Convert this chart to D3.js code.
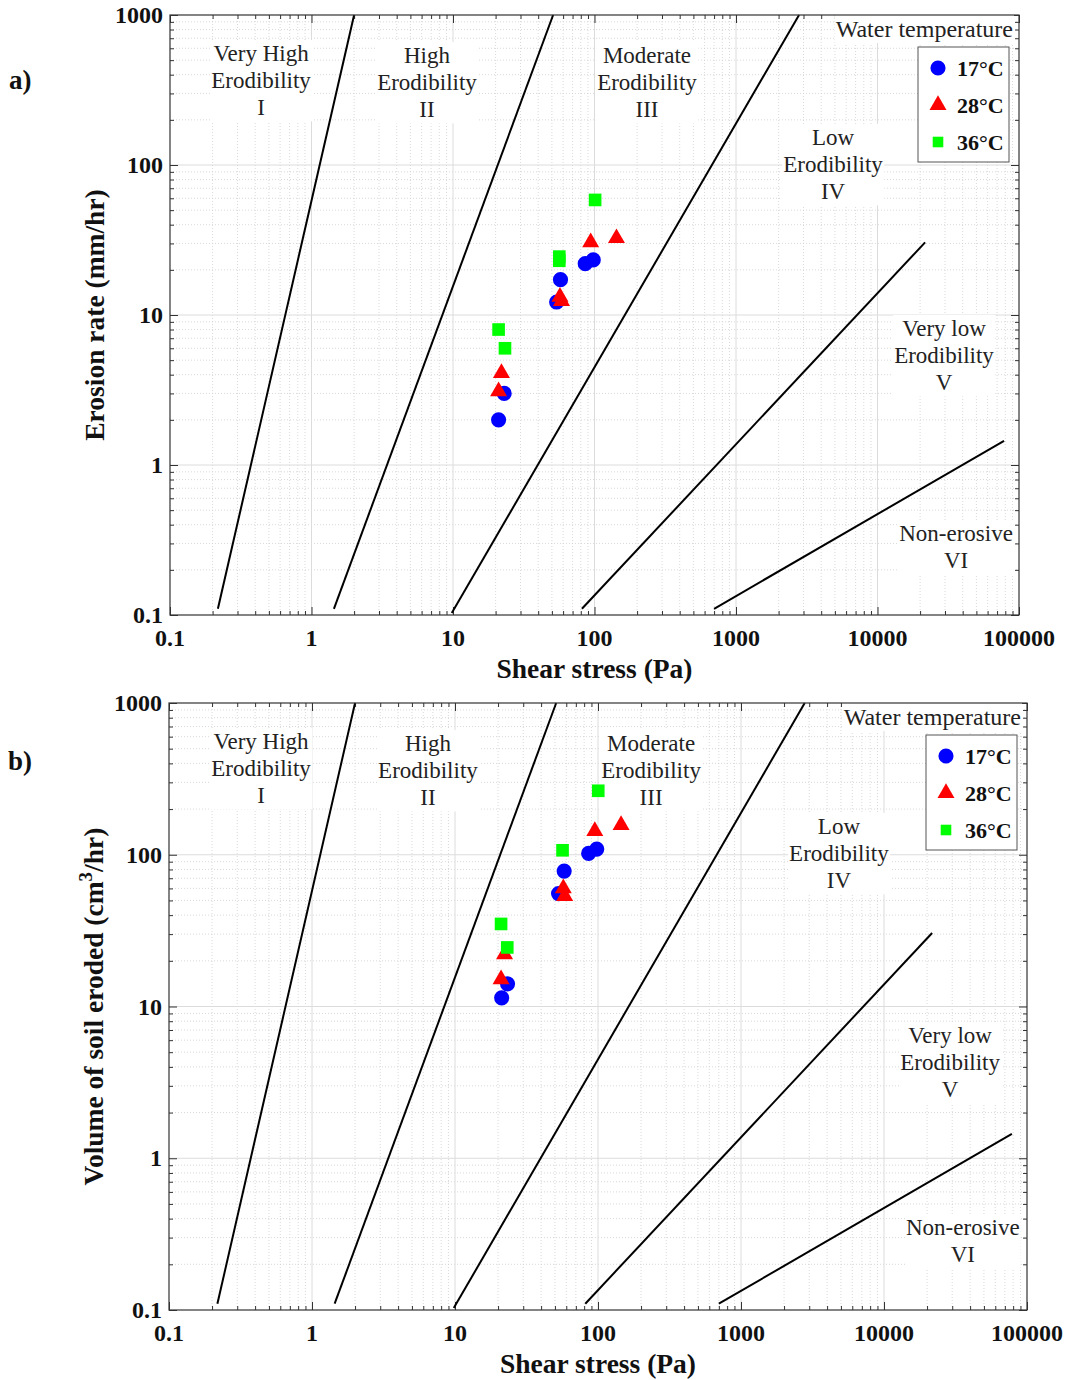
<!DOCTYPE html>
<html>
<head>
<meta charset="utf-8">
<script src="https://cdn.jsdelivr.net/npm/d3@7"></script>
<style>
  body { margin: 0; background: #fff; }
  svg { display: block; font-family: "Liberation Serif", "Times New Roman", serif; }
</style>
</head>
<body>
<svg id="chart" width="1070" height="1380"></svg>
<script>
// ---------------- DATA ----------------
const xTickValues = [0.1, 1, 10, 100, 1000, 10000, 100000];
const xTickLabels = ["0.1", "1", "10", "100", "1000", "10000", "100000"];
const yTickValues = [0.1, 1, 10, 100, 1000];
const yTickLabels = ["0.1", "1", "10", "100", "1000"];

// Erodibility category boundary lines: [x0, y0, x1, y1] in (Pa, rate)
const boundaryLines = [
  [0.218, 0.11, 2.0, 1000],
  [1.44, 0.11, 51, 1000],
  [9.8, 0.103, 2790, 1000],
  [81.5, 0.11, 21700, 30.5],
  [700, 0.11, 78400, 1.45]
];

const seriesNames = ["17°C", "28°C", "36°C"];
const seriesColors = ["#0000ff", "#ff0000", "#00ff00"];
const seriesSymbols = ["circle", "triangle", "square"];

// Panel a) erosion rate (mm/hr)
const rate17 = [[21, 2.0], [23, 3.0], [54, 12.2], [57.5, 17.2], [86, 22], [98, 23.3]];
const rate28 = [[21, 3.1], [22, 4.1], [57, 13.2], [58.5, 12.4], [94, 30.5], [143, 32.5]];
const rate36 = [[21, 8.0], [23.3, 6.0], [56.4, 23.0], [56.4, 24.5], [101, 58.5]];

// Panel b) volume of soil eroded (cm3/hr)
const vol17 = [[21.2, 11.4], [23.3, 14.1], [53, 55.5], [58, 78], [86, 102], [98, 109]];
const vol28 = [[21, 15.1], [22.2, 22.1], [57.2, 60], [58.5, 53.5], [95, 143], [145, 157]];
const vol36 = [[21, 35], [23.2, 24.5], [56.5, 107], [100.4, 264]];

// Zone labels: [x (Pa), y (value), lines]
const zoneLabelsA = [
  [0.44, 558, ["Very High", "Erodibility", "I"]],
  [6.55, 541, ["High", "Erodibility", "II"]],
  [235, 541, ["Moderate", "Erodibility", "III"]],
  [4850, 154, ["Low", "Erodibility", "IV"]],
  [29500, 8.2, ["Very low", "Erodibility", "V"]],
  [35900, 0.352, ["Non-erosive", "VI"]]
];
const zoneLabelsB = [
  [0.44, 562, ["Very High", "Erodibility", "I"]],
  [6.47, 545, ["High", "Erodibility", "II"]],
  [235, 545, ["Moderate", "Erodibility", "III"]],
  [4840, 155, ["Low", "Erodibility", "IV"]],
  [29000, 6.5, ["Very low", "Erodibility", "V"]],
  [35600, 0.352, ["Non-erosive", "VI"]]
];

const legendTitle = "Water temperature";
const xTitle = "Shear stress (Pa)";

// ---------------- DRAW ----------------
const svg = d3.select("#chart");

const panels = [
  { tag: "a)", L: 170, R: 1019, T: 15, B: 615, tagX: 9, tagY: 80,
    series: [rate17, rate28, rate36], zones: zoneLabelsA, yTitle: "rate" },
  { tag: "b)", L: 169, R: 1027, T: 703, B: 1310, tagX: 8, tagY: 761,
    series: [vol17, vol28, vol36], zones: zoneLabelsB, yTitle: "vol" }
];

function symbolFor(name, scale) {
  const k = scale || 1;
  if (name === "circle") return d3.symbol().type(d3.symbolCircle).size(180 * k)();
  if (name === "triangle") return d3.symbol().type(d3.symbolTriangle).size(125 * k)();
  return d3.symbol().type(d3.symbolSquare).size(160 * k)();
}

function whiteBehind(g, textSel, pad) {
  const bb = textSel.node().getBBox();
  g.insert("rect", () => textSel.node())
    .attr("x", bb.x - pad).attr("y", bb.y - 1).attr("width", bb.width + 2 * pad).attr("height", bb.height + 2)
    .attr("fill", "#fff");
}

panels.forEach(p => {
  const x = d3.scaleLog().domain([0.1, 100000]).range([p.L, p.R]);
  const y = d3.scaleLog().domain([0.1, 1000]).range([p.B, p.T]);
  const g = svg.append("g");

  // minor values
  const minorX = [], minorY = [];
  for (let e = -1; e < 5; e++) for (let m = 2; m <= 9; m++) minorX.push(m * Math.pow(10, e));
  for (let e = -1; e < 3; e++) for (let m = 2; m <= 9; m++) minorY.push(m * Math.pow(10, e));

  // minor grid (dotted)
  g.selectAll(".mgx").data(minorX).join("line")
    .attr("x1", d => x(d)).attr("x2", d => x(d)).attr("y1", p.T).attr("y2", p.B)
    .attr("stroke", "#cfcfcf").attr("stroke-width", 0.8).attr("stroke-dasharray", "1,2");
  g.selectAll(".mgy").data(minorY).join("line")
    .attr("y1", d => y(d)).attr("y2", d => y(d)).attr("x1", p.L).attr("x2", p.R)
    .attr("stroke", "#cfcfcf").attr("stroke-width", 0.8).attr("stroke-dasharray", "1,2");
  // major grid
  g.selectAll(".Mgx").data(xTickValues.slice(1, -1)).join("line")
    .attr("x1", d => x(d)).attr("x2", d => x(d)).attr("y1", p.T).attr("y2", p.B)
    .attr("stroke", "#dcdcdc").attr("stroke-width", 1);
  g.selectAll(".Mgy").data(yTickValues.slice(1, -1)).join("line")
    .attr("y1", d => y(d)).attr("y2", d => y(d)).attr("x1", p.L).attr("x2", p.R)
    .attr("stroke", "#dcdcdc").attr("stroke-width", 1);

  // axes with inward ticks (all four sides)
  const axCol = "#333";
  const mkAxis = (axisFn, scale, vals, size) =>
    axisFn(scale).tickValues(vals).tickSize(size).tickFormat("");
  const tr = (sel) => sel.call(s => s.select(".domain").remove())
    .call(s => s.selectAll("line").attr("stroke", axCol));

  g.append("g").attr("transform", `translate(0,${p.B})`).call(mkAxis(d3.axisTop, x, xTickValues, 8)).call(tr);
  g.append("g").attr("transform", `translate(0,${p.B})`).call(mkAxis(d3.axisTop, x, minorX, 4)).call(tr);
  g.append("g").attr("transform", `translate(0,${p.T})`).call(mkAxis(d3.axisBottom, x, xTickValues, 8)).call(tr);
  g.append("g").attr("transform", `translate(0,${p.T})`).call(mkAxis(d3.axisBottom, x, minorX, 4)).call(tr);
  g.append("g").attr("transform", `translate(${p.L},0)`).call(mkAxis(d3.axisRight, y, yTickValues, 8)).call(tr);
  g.append("g").attr("transform", `translate(${p.L},0)`).call(mkAxis(d3.axisRight, y, minorY, 4)).call(tr);
  g.append("g").attr("transform", `translate(${p.R},0)`).call(mkAxis(d3.axisLeft, y, yTickValues, 8)).call(tr);
  g.append("g").attr("transform", `translate(${p.R},0)`).call(mkAxis(d3.axisLeft, y, minorY, 4)).call(tr);

  // tick labels
  g.selectAll(".xl").data(xTickValues).join("text")
    .attr("x", d => x(d)).attr("y", p.B + 31)
    .attr("text-anchor", "middle").attr("font-weight", "bold").attr("font-size", 24)
    .attr("fill", "#111").text((d, i) => xTickLabels[i]);
  g.selectAll(".yl").data(yTickValues).join("text")
    .attr("x", p.L - 7).attr("y", d => y(d) + 8)
    .attr("text-anchor", "end").attr("font-weight", "bold").attr("font-size", 24)
    .attr("fill", "#111").text((d, i) => yTickLabels[i]);

  // axis titles
  g.append("text").attr("x", (p.L + p.R) / 2).attr("y", p.B + 63)
    .attr("text-anchor", "middle").attr("font-weight", "bold").attr("font-size", 27.5)
    .attr("fill", "#111").text(xTitle);
  const yt = g.append("text")
    .attr("transform", `translate(${p.L - 66},${(p.T + p.B) / 2}) rotate(-90)`)
    .attr("text-anchor", "middle").attr("font-weight", "bold").attr("font-size", 27.5).attr("fill", "#111");
  if (p.yTitle === "rate") {
    yt.text("Erosion rate (mm/hr)");
  } else {
    yt.append("tspan").text("Volume of soil eroded (cm");
    yt.append("tspan").attr("dy", -11).attr("font-size", 19).text("3");
    yt.append("tspan").attr("dy", 11).text("/hr)");
  }

  // panel tag
  g.append("text").attr("x", p.tagX).attr("y", p.tagY + 9).attr("font-weight", "bold")
    .attr("font-size", 27).attr("fill", "#111").text(p.tag);

  // boundary lines
  g.selectAll(".bl").data(boundaryLines).join("line")
    .attr("x1", d => x(d[0])).attr("y1", d => y(d[1]))
    .attr("x2", d => x(d[2])).attr("y2", d => y(d[3]))
    .attr("stroke", "#000").attr("stroke-width", 2);

  // zone labels (white background)
  p.zones.forEach(z => {
    const t = g.append("text").attr("text-anchor", "middle").attr("font-size", 23).attr("fill", "#222");
    z[2].forEach((line, i) => {
      t.append("tspan").attr("x", x(z[0])).attr("y", y(z[1]) + 8 + i * 27.2).text(line);
    });
    whiteBehind(g, t, 1);
  });

  // data markers
  p.series.forEach((s, si) => {
    g.selectAll(".pt" + si).data(s).join("path")
      .attr("d", symbolFor(seriesSymbols[si]))
      .attr("transform", d => `translate(${x(d[0])},${y(d[1])})`)
      .attr("fill", seriesColors[si]);
  });

  // legend title
  const lt = g.append("text").attr("x", p.R - 6).attr("y", p.T + 22)
    .attr("text-anchor", "end").attr("font-size", 24).attr("fill", "#222").text(legendTitle);
  whiteBehind(g, lt, 1);

  // frame
  g.append("rect").attr("x", p.L).attr("y", p.T).attr("width", p.R - p.L).attr("height", p.B - p.T)
    .attr("fill", "none").attr("stroke", axCol).attr("stroke-width", 1.2);

  // legend box
  const bx = p.R - 101, by = p.T + 32;
  const lg = g.append("g");
  lg.append("rect").attr("x", bx).attr("y", by).attr("width", 91).attr("height", 115)
    .attr("fill", "#fff").attr("stroke", "#555").attr("stroke-width", 1);
  seriesNames.forEach((n, i) => {
    const cy = by + 21 + i * 37;
    lg.append("path").attr("d", symbolFor(seriesSymbols[i], i === 2 ? 0.7 : 1))
      .attr("transform", `translate(${bx + 20},${cy})`).attr("fill", seriesColors[i]);
    lg.append("text").attr("x", bx + 39).attr("y", cy + 8).attr("font-weight", "bold")
      .attr("font-size", 22).attr("fill", "#111").text(n);
  });
});
</script>
</body>
</html>
